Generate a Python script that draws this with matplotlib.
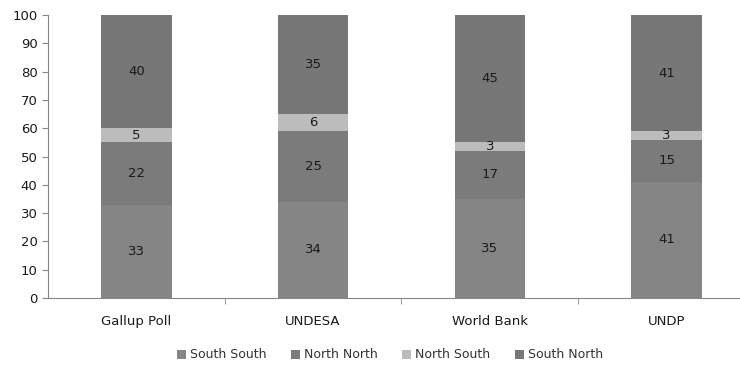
import numpy as np
import matplotlib.pyplot as plt

sources = ["Gallup Poll", "UNDESA", "World Bank", "UNDP"]
series = ["South South", "North North", "North South", "South North"]
south_south = [33, 34, 35, 41]
north_north = [22, 25, 17, 15]
north_south = [5, 6, 3, 3]
south_north = [40, 35, 45, 41]
colors = ["#858585", "#7b7b7b", "#bcbcbc", "#777777"]

plt.rcParams['font.family'] = ['DejaVu Sans']
fig = plt.figure(figsize=(7.4, 3.65), dpi=100)
ax = fig.add_axes([48/740, 67/365, 707/740, 283/365])

x = np.arange(len(sources))
bottom = np.zeros(len(sources))
for name, vals, c in zip(series, [south_south, north_north, north_south, south_north], colors):
    vals = np.array(vals, dtype=float)
    ax.bar(x, vals, width=0.4, bottom=bottom, color=c, label=name)
    for xi, b, v in zip(x, bottom, vals):
        ax.text(xi, b + v / 2, f"{int(v)}", ha="center", va="center",
                fontsize=9.5, color="#1a1a1a")
    bottom += vals

ax.set_xlim(-0.5, 3.5)
ax.set_ylim(0, 100)
ax.set_yticks(range(0, 101, 10))
ax.set_xticks(x)
ax.set_xticklabels(sources)
ax.set_xticks(np.arange(0.5, 3.5, 1), minor=True)
ax.tick_params(axis="x", which="major", length=0, pad=12, labelsize=9.5, labelcolor="#1a1a1a")
ax.tick_params(axis="x", which="minor", length=4, color="#868686")
ax.tick_params(axis="y", length=4, color="#868686", labelsize=9.5, labelcolor="#1a1a1a")
for s in ["top", "right"]:
    ax.spines[s].set_visible(False)
for s in ["left", "bottom"]:
    ax.spines[s].set_color("#868686")

fig.legend(loc="center", bbox_to_anchor=(390/740, 1 - 355/365), ncol=4, frameon=False,
           fontsize=9, handlelength=0.7, handleheight=0.7, handletextpad=0.3,
           columnspacing=2.0, labelcolor="#333333")

fig.savefig("out.png", dpi=100)
